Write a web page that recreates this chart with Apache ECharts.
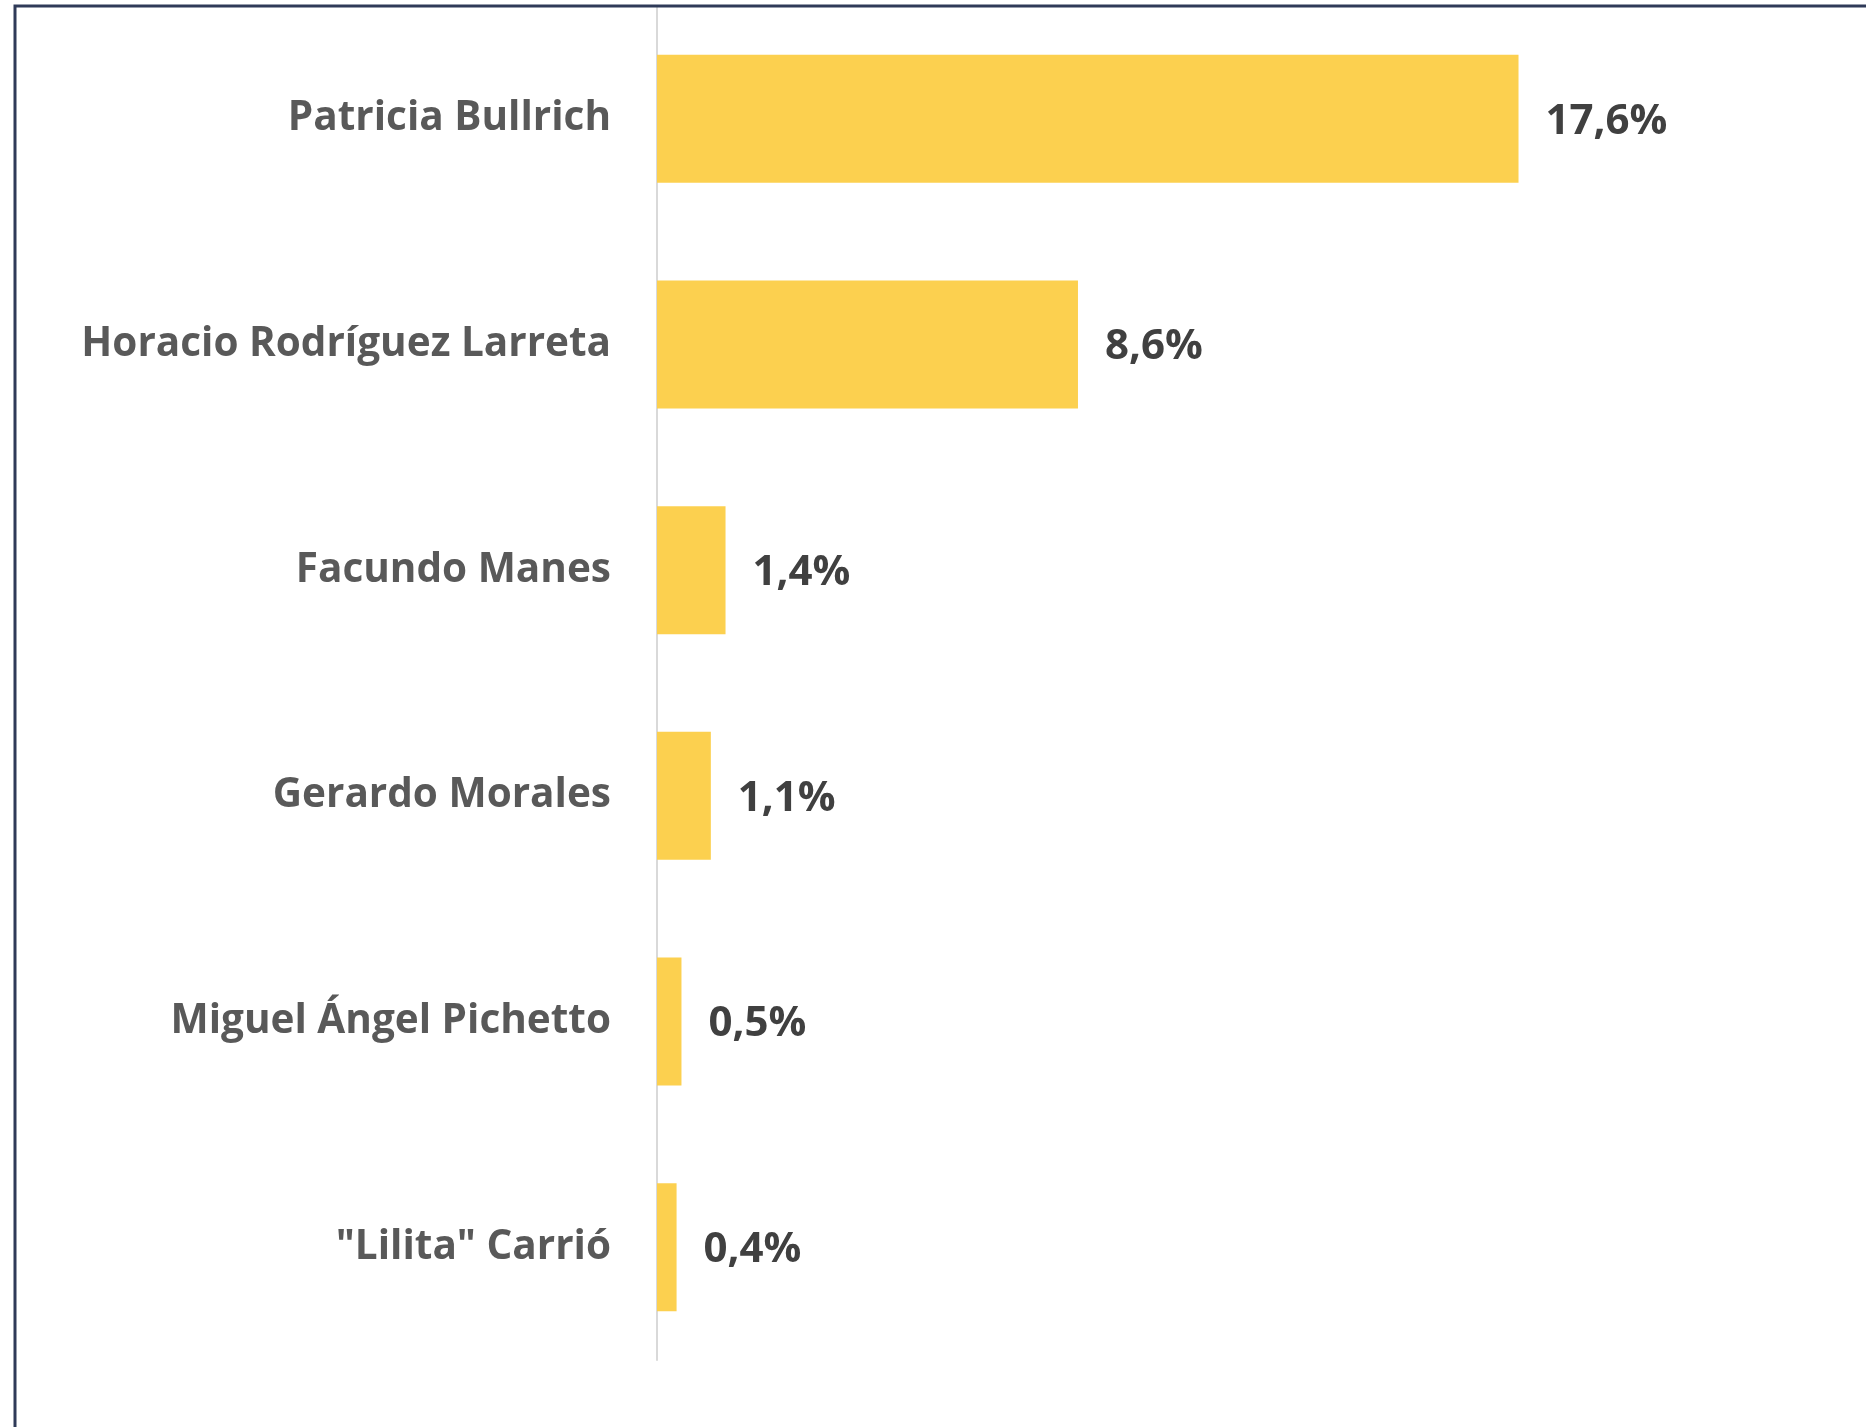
<!DOCTYPE html>
<html>
<head>
<meta charset="utf-8">
<script src="https://cdn.jsdelivr.net/npm/echarts@6/dist/echarts.min.js"></script>
<style>
html,body{margin:0;padding:0;background:#ffffff;}
#chart{width:1866px;height:1427px;}
</style>
</head>
<body>
<div id="chart"></div>
<script>
const categories = ['Patricia Bullrich', 'Horacio Rodríguez Larreta', 'Facundo Manes', 'Gerardo Morales', 'Miguel Ángel Pichetto', '"Lilita" Carrió'];
const values = [17.6, 8.6, 1.4, 1.1, 0.5, 0.4];

const chart = echarts.init(document.getElementById('chart'));
chart.setOption({
  backgroundColor: '#ffffff',
  animation: false,
  graphic: [{
    type: 'rect',
    shape: { x: 15, y: 6, width: 2000, height: 2000 },
    style: { fill: 'none', stroke: '#2f3a58', lineWidth: 3 },
    z: 10
  }],
  grid: { left: 657, top: 6, width: 979, height: 1354, containLabel: false },
  xAxis: {
    type: 'value', min: 0, max: 20, show: false,
    splitLine: { show: false }
  },
  yAxis: {
    type: 'category', data: categories, inverse: true,
    axisLine: { show: true, lineStyle: { color: '#d9d9d9', width: 2 } },
    axisTick: { show: false },
    axisLabel: {
      margin: 46, color: '#595959',
      fontFamily: 'Open Sans', fontWeight: 'bold', fontSize: 40.5
    }
  },
  series: [{
    type: 'bar', data: values, barWidth: 128,
    itemStyle: { color: '#fcd04f' },
    label: {
      show: true, position: 'right', distance: 27, offset: [0, 3],
      color: '#404040', fontFamily: 'Open Sans', fontWeight: 'bold', fontSize: 42,
      formatter: p => p.value.toFixed(1).replace('.', ',') + '%'
    }
  }]
});
</script>
</body>
</html>
